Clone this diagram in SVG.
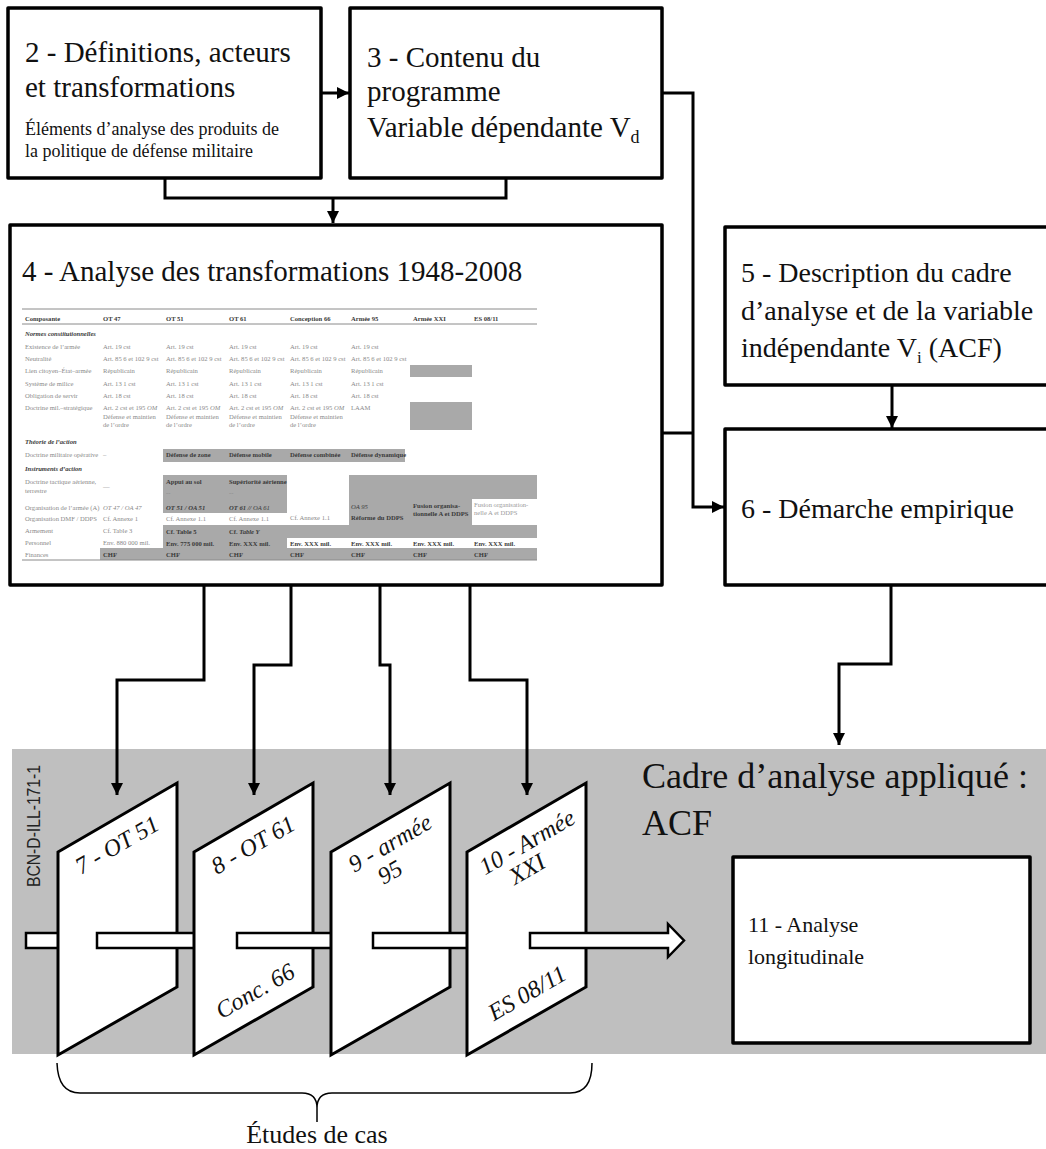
<svg xmlns="http://www.w3.org/2000/svg" width="1046" height="1149" viewBox="0 0 1046 1149">
  <style>
    .box { fill: #fff; stroke: #000; stroke-width: 3.5; stroke-linejoin: round; }
    .conn { fill: none; stroke: #000; stroke-width: 3; }
    .panel { fill: #fff; stroke: #000; stroke-width: 3; stroke-linejoin: miter; }
    .bar { fill: #fff; stroke: #000; stroke-width: 2.5; }
    .t { font-family: "Liberation Serif", "DejaVu Serif", serif; fill: #111; }
    .big { font-size: 29px; }
    .mid { font-size: 28px; }
    .small { font-size: 18px; }
    .pt { font-family: "Liberation Serif", "DejaVu Serif", serif; font-size: 24px; font-style: italic; fill: #111; text-anchor: middle; }
    .tb { font-family: "Liberation Serif", "DejaVu Serif", serif; font-size: 6.6px; fill: #8a8a8a; }
    .tbb { font-family: "Liberation Serif", "DejaVu Serif", serif; font-size: 6.6px; font-weight: bold; fill: #3a3a3a; }
    .tbi { font-style: italic; }
    .gray { fill: #a9a9a9; }
    .rule { stroke: #8a8a8a; stroke-width: 1; }
  </style>
  <defs>
    <marker id="arrow" markerUnits="userSpaceOnUse" markerWidth="12" markerHeight="12" viewBox="0 0 12 12" refX="12" refY="6" orient="auto">
      <path d="M0,0 L12,6 L0,12 Z" fill="#000"/>
    </marker>
  </defs>

  <!-- applied framework band -->
  <rect x="12" y="749" width="1040" height="305" fill="#bfbfbf"/>
  <text class="t" x="642" y="788" font-size="36" textLength="386" lengthAdjust="spacingAndGlyphs">Cadre d’analyse appliqué :</text>
  <text class="t" x="642" y="835" font-size="36">ACF</text>
  <text transform="translate(40,887) rotate(-90)" font-family="Liberation Sans, Arial, sans-serif" font-size="18" fill="#222" textLength="122" lengthAdjust="spacingAndGlyphs">BCN-D-ILL-171-1</text>

  <!-- connectors -->
  <g id="connectors">
    <path class="conn" d="M321,93 H349" marker-end="url(#arrow)"/>
    <path class="conn" d="M165,178 V198 H506 V178"/>
    <path class="conn" d="M333,198 V223" marker-end="url(#arrow)"/>
    <path class="conn" d="M662,93 H693 V507 H724" marker-end="url(#arrow)"/>
    <path class="conn" d="M545,433 H693"/>
    <path class="conn" d="M892,385 V428" marker-end="url(#arrow)"/>
    <path class="conn" d="M891,585 V664 H839 V745" marker-end="url(#arrow)"/>
    <path class="conn" d="M204,585 V680 H117 V795" marker-end="url(#arrow)"/>
    <path class="conn" d="M291,585 V665 H254 V795" marker-end="url(#arrow)"/>
    <path class="conn" d="M380,585 V665 H390 V795" marker-end="url(#arrow)"/>
    <path class="conn" d="M470,585 V680 H527 V795" marker-end="url(#arrow)"/>
  </g>

  <!-- 2 -->
  <g id="node2">
    <rect class="box" x="8" y="8" width="313" height="170"/>
    <text class="t big" x="25" y="62">2 - Définitions, acteurs</text>
    <text class="t big" x="25" y="97">et transformations</text>
    <text class="t small" x="25" y="135">Éléments d’analyse des produits de</text>
    <text class="t small" x="25" y="157">la politique de défense militaire</text>
  </g>

  <!-- 3 -->
  <g id="node3">
    <rect class="box" x="350" y="8" width="312" height="170"/>
    <text class="t big" x="367" y="67">3 - Contenu du</text>
    <text class="t big" x="367" y="101">programme</text>
    <text class="t big" x="367" y="137">Variable dépendante V<tspan font-size="18" dy="6">d</tspan></text>
  </g>

  <!-- 4 -->
  <g id="node4">
    <rect class="box" x="10" y="225" width="652" height="360"/>
    <text class="t big" x="22" y="281">4 - Analyse des transformations 1948-2008</text>

    <!-- summary table -->
    <g id="table">
      <rect class="gray" x="410" y="365" width="62" height="12"/>
      <rect class="gray" x="410" y="402" width="62" height="28"/>
      <rect class="gray" x="163" y="449" width="242" height="13"/>
      <rect class="gray" x="163" y="475" width="124" height="38"/>
      <rect class="gray" x="349" y="475" width="188" height="24"/>
      <rect class="gray" x="349" y="498" width="123" height="28"/>
      <rect class="gray" x="163" y="525" width="374" height="13"/>
      <rect class="gray" x="163" y="537" width="124" height="12"/>
      <rect class="gray" x="100" y="548" width="437" height="12"/>
      <line class="rule" x1="22" y1="309" x2="537" y2="309" stroke-width="1.5"/>
      <line class="rule" x1="22" y1="324" x2="537" y2="324"/>
      <line class="rule" x1="22" y1="560" x2="537" y2="560"/>

      <text class="tbb" x="25" y="321">Composante</text>
      <text class="tbb" x="103" y="321">OT 47</text>
      <text class="tbb" x="166" y="321">OT 51</text>
      <text class="tbb" x="229" y="321">OT 61</text>
      <text class="tbb" x="290" y="321">Conception 66</text>
      <text class="tbb" x="351" y="321">Armée 95</text>
      <text class="tbb" x="413" y="321">Armée XXI</text>
      <text class="tbb" x="474" y="321">ES 08/11</text>

      <text class="tbb tbi" x="25" y="336">Normes constitutionnelles</text>
      <text class="tb" x="25" y="349">Existence de l’armée</text>
      <text class="tb" x="25" y="361">Neutralité</text>
      <text class="tb" x="25" y="373">Lien citoyen–État–armée</text>
      <text class="tb" x="25" y="386">Système de milice</text>
      <text class="tb" x="25" y="398">Obligation de servir</text>
      <text class="tb" x="25" y="410">Doctrine mil.–stratégique</text>
      <text class="tbb tbi" x="25" y="444">Théorie de l’action</text>
      <text class="tb" x="25" y="457">Doctrine militaire opérative</text>
      <text class="tbb tbi" x="25" y="471">Instruments d’action</text>
      <text class="tb" x="25" y="484">Doctrine tactique aérienne,</text>
      <text class="tb" x="25" y="493">terrestre</text>
      <text class="tb" x="25" y="510">Organisation de l’armée (A)</text>
      <text class="tb" x="25" y="521">Organisation DMF / DDPS</text>
      <text class="tb" x="25" y="533">Armement</text>
      <text class="tb" x="25" y="545">Personnel</text>
      <text class="tb" x="25" y="557">Finances</text>

      <!-- constitutional rows, OT 47 .. Conception 66 -->
      <g class="tb">
        <text x="103" y="349">Art. 19 cst</text>
        <text x="103" y="361">Art. 85 6 et 102 9 cst</text>
        <text x="103" y="373">Républicain</text>
        <text x="103" y="386">Art. 13 1 cst</text>
        <text x="103" y="398">Art. 18 cst</text>
        <text x="103" y="410">Art. 2 cst et 195 <tspan font-style="italic">OM</tspan></text>
        <text x="103" y="419">Défense et maintien</text>
        <text x="103" y="427">de l’ordre</text>

        <text x="166" y="349">Art. 19 cst</text>
        <text x="166" y="361">Art. 85 6 et 102 9 cst</text>
        <text x="166" y="373">Républicain</text>
        <text x="166" y="386">Art. 13 1 cst</text>
        <text x="166" y="398">Art. 18 cst</text>
        <text x="166" y="410">Art. 2 cst et 195 <tspan font-style="italic">OM</tspan></text>
        <text x="166" y="419">Défense et maintien</text>
        <text x="166" y="427">de l’ordre</text>

        <text x="229" y="349">Art. 19 cst</text>
        <text x="229" y="361">Art. 85 6 et 102 9 cst</text>
        <text x="229" y="373">Républicain</text>
        <text x="229" y="386">Art. 13 1 cst</text>
        <text x="229" y="398">Art. 18 cst</text>
        <text x="229" y="410">Art. 2 cst et 195 <tspan font-style="italic">OM</tspan></text>
        <text x="229" y="419">Défense et maintien</text>
        <text x="229" y="427">de l’ordre</text>

        <text x="290" y="349">Art. 19 cst</text>
        <text x="290" y="361">Art. 85 6 et 102 9 cst</text>
        <text x="290" y="373">Républicain</text>
        <text x="290" y="386">Art. 13 1 cst</text>
        <text x="290" y="398">Art. 18 cst</text>
        <text x="290" y="410">Art. 2 cst et 195 <tspan font-style="italic">OM</tspan></text>
        <text x="290" y="419">Défense et maintien</text>
        <text x="290" y="427">de l’ordre</text>

        <text x="351" y="349">Art. 19 cst</text>
        <text x="351" y="361">Art. 85 6 et 102 9 cst</text>
        <text x="351" y="373">Républicain</text>
        <text x="351" y="386">Art. 13 1 cst</text>
        <text x="351" y="398">Art. 18 cst</text>
        <text x="351" y="410">LAAM</text>

        <text x="103" y="457">–</text>
        <text x="103" y="489">—</text>
        <text x="103" y="510" font-style="italic">OT 47 / OA 47</text>
        <text x="103" y="521">Cf. Annexe 1</text>
        <text x="103" y="533">Cf. Table 3</text>
        <text x="103" y="545">Env. 880 000 mil.</text>
        <text x="166" y="495">--</text>
        <text x="229" y="495">--</text>
        <text x="166" y="521">Cf. Annexe 1.1</text>
        <text x="229" y="521">Cf. Annexe 1.1</text>
        <text x="290" y="520">Cf. Annexe 1.1</text>
        <text x="474" y="507" fill="#9a9a9a">Fusion organisation-</text>
        <text x="474" y="515" fill="#9a9a9a">nelle A et DDPS</text>
      </g>
      <g class="tbb">
        <text x="166" y="457">Défense de zone</text>
        <text x="229" y="457">Défense mobile</text>
        <text x="290" y="457">Défense combinée</text>
        <text x="351" y="457">Défense dynamique</text>
        <text x="166" y="484">Appui au sol</text>
        <text x="229" y="484">Supériorité aérienne</text>
        <text x="166" y="510" font-style="italic">OT 51 / OA 51</text>
        <text x="229" y="510" font-style="italic">OT 61 // <tspan font-weight="normal">OA 61</tspan></text>
        <text x="351" y="509" font-style="italic" font-weight="normal">OA 95</text>
        <text x="351" y="520">Réforme du DDPS</text>
        <text x="413" y="508">Fusion organisa-</text>
        <text x="413" y="516">tionnelle A et DDPS</text>
        <text x="166" y="534">Cf. Table 5</text>
        <text x="229" y="534">Cf. <tspan font-style="italic">Table Y</tspan></text>
        <text x="166" y="546">Env. 775 000 mil.</text>
        <text x="229" y="546">Env. XXX mil.</text>
        <text x="290" y="546">Env. XXX mil.</text>
        <text x="351" y="546">Env. XXX mil.</text>
        <text x="413" y="546">Env. XXX mil.</text>
        <text x="474" y="546">Env. XXX mil.</text>
        <text x="103" y="557">CHF</text>
        <text x="166" y="557">CHF</text>
        <text x="229" y="557">CHF</text>
        <text x="290" y="557">CHF</text>
        <text x="351" y="557">CHF</text>
        <text x="413" y="557">CHF</text>
        <text x="474" y="557">CHF</text>
      </g>
    </g>
  </g>

  <!-- 5 -->
  <g id="node5">
    <rect class="box" x="725" y="227" width="330" height="158"/>
    <text class="t mid" x="741" y="282">5 - Description du cadre</text>
    <text class="t mid" x="741" y="320">d’analyse et de la variable</text>
    <text class="t mid" x="741" y="357">indépendante V<tspan font-size="17" dy="6">i</tspan><tspan dy="-6"> (ACF)</tspan></text>
  </g>

  <!-- 6 -->
  <g id="node6">
    <rect class="box" x="725" y="429" width="330" height="156"/>
    <text class="t mid" x="741" y="518">6 - Démarche empirique</text>
  </g>

  <!-- case-study panels with flow bars -->
  <g id="bar0"><rect class="bar" x="26" y="933" width="36" height="15"/></g>
  <g id="node7">
    <path class="panel" d="M58,852 L177,783 L177,987 L58,1055 Z"/>
    <text class="pt" transform="translate(117,845) rotate(-30)" y="8">7 - OT 51</text>
  </g>
  <g id="bar1"><rect class="bar" x="97" y="933" width="101" height="15"/></g>
  <g id="node8">
    <path class="panel" d="M194,852 L313,783 L313,987 L194,1055 Z"/>
    <text class="pt" transform="translate(253,845) rotate(-30)" y="8">8 - OT 61</text>
    <text class="pt" transform="translate(255,991) rotate(-30)" y="8">Conc. 66</text>
  </g>
  <g id="bar2"><rect class="bar" x="237" y="933" width="98" height="15"/></g>
  <g id="node9">
    <path class="panel" d="M331,852 L450,783 L450,987 L331,1055 Z"/>
    <text class="pt" transform="translate(390,843) rotate(-30)" y="8">9 - armée</text>
    <text class="pt" transform="translate(390,872) rotate(-30)" y="8">95</text>
  </g>
  <g id="bar3"><rect class="bar" x="373" y="933" width="98" height="15"/></g>
  <g id="node10">
    <path class="panel" d="M467,852 L586,783 L586,987 L467,1055 Z"/>
    <text class="pt" transform="translate(527,842) rotate(-30)" y="8">10 - Armée</text>
    <text class="pt" transform="translate(527,869) rotate(-30)" y="8">XXI</text>
    <text class="pt" transform="translate(527,993) rotate(-30)" y="8">ES 08/11</text>
  </g>
  <g id="bar4"><path class="bar" d="M530,933 H668 V924 L684,940.5 L668,957 V948 H530 Z"/></g>

  <!-- 11 -->
  <g id="node11">
    <rect class="box" x="733" y="857" width="297" height="186"/>
    <text class="t" font-size="22" x="748" y="932">11 - Analyse</text>
    <text class="t" font-size="22" x="748" y="964">longitudinale</text>
  </g>

  <!-- case-study brace -->
  <g id="brace">
    <path d="M57,1063 Q58,1093 80,1093 H302 Q317,1093 317,1108 V1122 M317,1108 Q317,1093 332,1093 H570 Q592,1093 592,1063" fill="none" stroke="#000" stroke-width="1.5"/>
    <text class="t" font-size="26" x="317" y="1143" text-anchor="middle">Études de cas</text>
  </g>
</svg>
